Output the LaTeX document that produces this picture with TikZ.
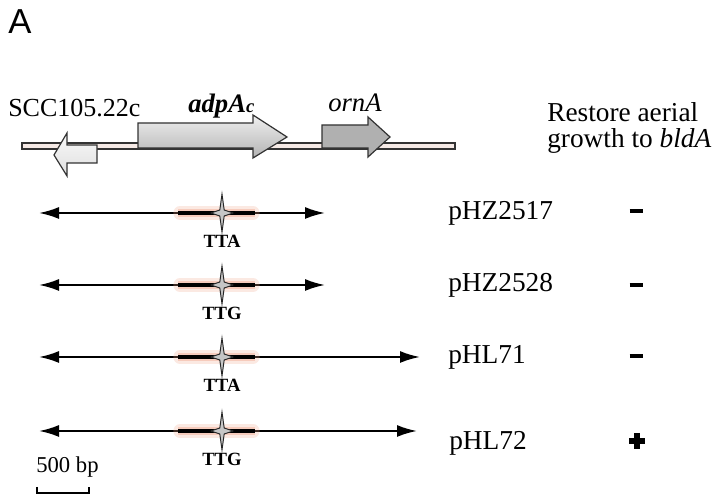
\documentclass[tikz,border=0pt]{standalone}
\usepackage{fontspec}
\setmainfont{Liberation Serif}
\setsansfont{Liberation Sans}
\usetikzlibrary{arrows.meta,calc}
\definecolor{trackfill}{HTML}{F6EAE6}
\definecolor{glow}{HTML}{F2A88E}
\definecolor{outl}{HTML}{333333}
\tikzset{
  gene/.style={draw=outl, line width=0.9pt, line join=miter},
  construct/.style={line width=1.6pt, {Latex[length=15,width=9]}-{Latex[length=15,width=9]}},
  codon/.style={font=\fontsize{14}{16}\selectfont\bfseries, inner sep=0pt},
  plasmid/.style={font=\fontsize{20.5}{24}\selectfont, anchor=base west, inner sep=0pt},
  sign/.style={inner sep=0pt, outer sep=0pt},
  starmark/.style={fill=gray!45, draw=black!85, line width=0.7pt, line join=miter}
}
% four-pointed marker on a construct line, with its coloured halo
\newcommand{\codonmark}[2]{%
  \draw[glow, line width=10, opacity=0.25, line cap=round] ($(#1)+(-42,0)$) -- ($(#1)+(31,0)$);
  \draw[glow, line width=6, opacity=0.45] ($(#1)+(-44,0)$) -- ($(#1)+(33,0)$);
  \draw[line width=3] ($(#1)+(-44,0)$) -- ($(#1)+(33,0)$);
  \draw[starmark] ($(#1)+(0,-19)$) -- ($(#1)+(2.2,-3)$) -- ($(#1)+(11,0)$) -- ($(#1)+(2.2,3)$)
     -- ($(#1)+(0,19)$) -- ($(#1)+(-2.2,3)$) -- ($(#1)+(-11,0)$) -- ($(#1)+(-2.2,-3)$) -- cycle;
  \node[codon] at ($(#1)+(0,28)$) {#2};
}
\begin{document}
\begin{tikzpicture}[x=0.75pt,y=-0.75pt]
\useasboundingbox[fill=white] (0,0) rectangle (719,498);

% panel letter
\node[font=\sffamily\fontsize{26}{28}\selectfont, anchor=base west, inner sep=0pt] (panel) at (8,34) {A};

% genomic track
\draw[fill=trackfill, draw=outl, line width=0.9pt] (22,143) rectangle (455,149);

% SCC105.22c (leftward)
\path[gene, top color=gray!5, bottom color=gray!25] (97,145) -- (67,145) -- (67,133) -- (54,155) -- (67,176) -- (67,163) -- (97,163) -- cycle;
% adpAc
\path[gene, top color=gray!12, bottom color=gray!60] (138,123) -- (253,123) -- (253,115) -- (287,137) -- (253,158) -- (253,148) -- (138,148) -- cycle;
% ornA
\path[gene, fill=gray!62] (322,125) -- (368,125) -- (368,117) -- (390,137) -- (368,157) -- (368,148) -- (322,148) -- cycle;

\node[font=\fontsize{19.5}{22}\selectfont, anchor=base west, inner sep=0pt] (scc) at (8,117) {SCC105.22c};
\node[font=\fontsize{20}{22}\selectfont\bfseries\itshape, anchor=base west, inner sep=0pt] (adpa) at (188,113) {adpA{\fontsize{14}{16}\selectfont c}};
\node[font=\fontsize{20}{22}\selectfont\itshape, anchor=base west, inner sep=0pt] (orna) at (328,112) {ornA};

\node[plasmid] (hdr1) at (547,122) {Restore aerial};
\node[plasmid] (hdr2) at (547,148) {growth to \textit{bldA}};

% constructs
\coordinate (l1a) at (39,213);  \coordinate (l1b) at (325,213);
\coordinate (l2a) at (39,285);  \coordinate (l2b) at (325,285);
\coordinate (l3a) at (39,357);  \coordinate (l3b) at (420,357);
\coordinate (l4a) at (39,431);  \coordinate (l4b) at (417,431);
\draw[construct] (l1a) -- (l1b);
\draw[construct] (l2a) -- (l2b);
\draw[construct] (l3a) -- (l3b);
\draw[construct] (l4a) -- (l4b);

\coordinate (m1) at (222,213);
\coordinate (m2) at (222,285);
\coordinate (m3) at (222,357);
\coordinate (m4) at (222,431);
\codonmark{m1}{TTA}
\codonmark{m2}{TTG}
\codonmark{m3}{TTA}
\codonmark{m4}{TTG}

\node[plasmid] (p1) at (448,220) {pHZ2517};
\node[plasmid] (p2) at (448,292) {pHZ2528};
\node[plasmid] (p3) at (448,364) {pHL71};
\node[plasmid] (p4) at (449,450) {pHL72};

% growth results: minus bars and a plus
\node[sign] (s1) at (636,211) {\rule{9.75pt}{2.4pt}};
\node[sign] (s2) at (636,285) {\rule{9.75pt}{2.4pt}};
\node[sign] (s3) at (636,356) {\rule{9.75pt}{2.4pt}};
\node[sign] (s4) at (637,441) {};
\draw[line width=4.5] ($(s4)+(-8,0)$) -- ($(s4)+(8,0)$);
\draw[line width=4.5] ($(s4)+(0,-8)$) -- ($(s4)+(0,8)$);

% scale bar
\node[font=\fontsize{17}{20}\selectfont, anchor=base west, inner sep=0pt] (scale) at (36,473) {500 bp};
\coordinate (sb1) at (37,493); \coordinate (sb2) at (89,493);
\draw[line width=1.2pt] ($(sb1)+(0,-6)$) -- (sb1) -- (sb2) -- ($(sb2)+(0,-6)$);
\end{tikzpicture}
\end{document}
